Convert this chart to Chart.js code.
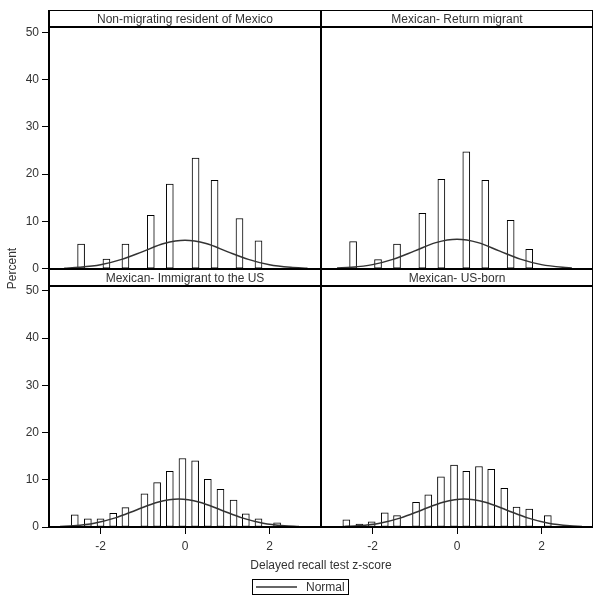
<!DOCTYPE html>
<html>
<head>
<meta charset="utf-8">
<script src="https://cdn.jsdelivr.net/npm/chart.js@4.4.1/dist/chart.umd.min.js"></script>
<style>
  html, body { margin: 0; padding: 0; background: #fff; }
</style>
</head>
<body>
<canvas id="chart" width="600" height="599"></canvas>
<script>
'use strict';

let ctx = document.getElementById('chart');

// panel headers, in order top-left, top-right, bottom-left, bottom-right
let panelTitles = ['Non-migrating resident of Mexico', 'Mexican- Return migrant',
  'Mexican- Immigrant to the US', 'Mexican- US-born'];

let xTicks = [-2, 0, 2];
let yTicks = [0, 10, 20, 30, 40, 50];

// histogram bars: bar centre (z-score) and percent
let tlBinX = [-2.46, -1.86, -1.41, -0.81, -0.36, 0.25, 0.70, 1.29, 1.74];
let tlPct  = [5.2, 2.0, 5.2, 11.3, 17.9, 23.4, 18.7, 10.6, 5.9];

let trBinX = [-2.46, -1.87, -1.42, -0.82, -0.37, 0.22, 0.67, 1.27, 1.71];
let trPct  = [5.7, 1.9, 5.2, 11.7, 18.9, 24.7, 18.7, 10.2, 4.1];

let blBinX = [-2.61, -2.30, -2.00, -1.70, -1.41, -0.96, -0.66, -0.36, -0.06, 0.24, 0.54, 0.84, 1.15, 1.44, 1.74, 2.18];
let blPct  = [2.6, 1.75, 1.75, 2.9, 4.1, 7.0, 9.4, 11.8, 14.5, 14.0, 10.1, 8.0, 5.7, 2.8, 1.75, 0.9];

let brBinX = [-2.62, -2.31, -2.02, -1.71, -1.42, -0.97, -0.68, -0.38, -0.07, 0.22, 0.52, 0.81, 1.12, 1.41, 1.71, 2.15];
let brPct  = [1.5, 0.6, 1.1, 3.0, 2.4, 5.2, 6.8, 10.6, 13.1, 11.8, 12.8, 12.2, 8.2, 4.2, 3.8, 2.4];

// fitted normal curves
let tlCurveX = [-2.86, -2.5, -2, -1.5, -1, -0.5, 0, 0.5, 1, 1.5, 2, 2.5, 2.9];
let tlCurveY = [0.1, 0.27, 0.8, 1.95, 3.6, 5.3, 6.0, 5.3, 3.6, 1.95, 0.8, 0.27, 0.09];

let trCurveX = [-2.84, -2.5, -2, -1.5, -1, -0.5, 0, 0.5, 1, 1.5, 2, 2.5, 2.72];
let trCurveY = [0.11, 0.27, 0.84, 2.0, 3.75, 5.5, 6.2, 5.5, 3.75, 2.0, 0.84, 0.27, 0.15];

let blCurveX = [-2.96, -2.65, -2.15, -1.65, -1.15, -0.65, -0.15, 0.35, 0.85, 1.35, 1.85, 2.35, 2.7];
let blCurveY = [0.1, 0.26, 0.8, 1.93, 3.6, 5.25, 5.95, 5.25, 3.6, 1.93, 0.8, 0.26, 0.09];

let brCurveX = [-2.65, -2.33, -1.83, -1.33, -0.83, -0.33, 0.17, 0.67, 1.17, 1.67, 2.17, 2.67, 2.96];
let brCurveY = [0.11, 0.26, 0.8, 1.93, 3.6, 5.25, 5.95, 5.25, 3.6, 1.93, 0.8, 0.26, 0.12];

const FONT = 'Liberation Sans, Arial, Helvetica, sans-serif';
const TEXT = '#333';
const STRIP = 51.1; // value where the header strip starts

function pts(xs, ys) {
  return xs.map(function(x, i) { return {x: x, y: ys[i]}; });
}

function bars(xs, ys, xId, yId) {
  return {
    type: 'bar',
    data: pts(xs, ys),
    xAxisID: xId,
    yAxisID: yId,
    backgroundColor: '#fff',
    borderColor: '#000',
    borderWidth: 1,
    borderSkipped: false,
    barThickness: 7,
    grouped: false,
    order: 2
  };
}

function curve(xs, ys, xId, yId) {
  return {
    type: 'line',
    label: 'Normal',
    data: pts(xs, ys),
    xAxisID: xId,
    yAxisID: yId,
    borderColor: '#333',
    borderWidth: 1.5,
    pointRadius: 0,
    cubicInterpolationMode: 'monotone',
    fill: false,
    order: 1
  };
}

function xScale() {
  return {
    type: 'linear',
    position: 'bottom',
    stack: 'xs',
    min: -3.22,
    max: 3.22,
    offset: false,
    grid: { display: true, offset: false, drawOnChartArea: false, drawTicks: true, tickLength: 7, color: '#000', lineWidth: 1 },
    border: { display: false },
    ticks: { color: TEXT, font: { family: FONT, size: 12 }, padding: 5, maxRotation: 0 },
    afterBuildTicks: function(s) { s.ticks = xTicks.map(function(v) { return {value: v}; }); },
    afterFit: function(s) { s.height = 72; }
  };
}

function yScale() {
  return {
    type: 'linear',
    position: 'left',
    stack: 'ys',
    min: 0,
    max: 54.7,
    grid: { display: true, drawOnChartArea: false, drawTicks: true, tickLength: 7, color: '#000', lineWidth: 1 },
    border: { display: false },
    ticks: { color: TEXT, font: { family: FONT, size: 12 }, padding: 3 },
    afterBuildTicks: function(s) { s.ticks = yTicks.map(function(v) { return {value: v}; }); },
    afterFit: function(s) { s.width = 49; }
  };
}

// frame, header strips, axis titles and legend
const panelFrame = {
  id: 'panelFrame',
  afterDatasetsDraw(chart) {
    const c = chart.ctx;
    const xL = chart.scales.xL, xR = chart.scales.xR;
    const yT = chart.scales.yT, yB = chart.scales.yB;
    const left = Math.round(xL.left), mid = Math.round(xL.right), right = Math.round(xR.right);
    const top = Math.round(yT.top), midY = Math.round(yT.bottom), bottom = Math.round(yB.bottom);
    const sT = Math.round(yT.getPixelForValue(STRIP));
    const sB = Math.round(yB.getPixelForValue(STRIP));

    c.save();
    c.strokeStyle = '#000';
    c.lineWidth = 1;
    c.beginPath();
    c.moveTo(left, top + 0.5); c.lineTo(right, top + 0.5);
    c.moveTo(right - 0.5, top); c.lineTo(right - 0.5, bottom);
    c.stroke();

    c.lineWidth = 2;
    c.beginPath();
    c.moveTo(left, top); c.lineTo(left, bottom);
    c.moveTo(mid, top); c.lineTo(mid, bottom);
    c.moveTo(left - 1, bottom); c.lineTo(right, bottom);
    c.moveTo(left, midY); c.lineTo(right, midY);
    c.moveTo(left, sT); c.lineTo(right, sT);
    c.moveTo(left, sB); c.lineTo(right, sB);
    c.stroke();

    c.fillStyle = TEXT;
    c.font = '12px ' + FONT;
    c.textAlign = 'center';
    c.textBaseline = 'middle';
    c.fillText(panelTitles[0], (left + mid) / 2, (top + sT) / 2 + 1);
    c.fillText(panelTitles[1], (mid + right) / 2, (top + sT) / 2 + 1);
    c.fillText(panelTitles[2], (left + mid) / 2, (midY + sB) / 2 + 1);
    c.fillText(panelTitles[3], (mid + right) / 2, (midY + sB) / 2 + 1);

    // axis titles
    c.fillText('Delayed recall test z-score', (left + right) / 2, 566);
    c.save();
    c.translate(13, (top + bottom) / 2);
    c.rotate(-Math.PI / 2);
    c.fillText('Percent', 0, 0);
    c.restore();

    // legend
    c.lineWidth = 1;
    c.strokeRect(252.5, 579.5, 96, 15);
    c.strokeStyle = '#333';
    c.lineWidth = 1.5;
    c.beginPath();
    c.moveTo(256, 587); c.lineTo(297, 587);
    c.stroke();
    c.textAlign = 'left';
    c.fillText('Normal', 306, 587.5);
    c.restore();
  }
};

new Chart(ctx, {
  type: 'bar',
  data: {
    datasets: [
      bars(tlBinX, tlPct, 'xL', 'yT'),
      bars(trBinX, trPct, 'xR', 'yT'),
      bars(blBinX, blPct, 'xL', 'yB'),
      bars(brBinX, brPct, 'xR', 'yB'),
      curve(tlCurveX, tlCurveY, 'xL', 'yT'),
      curve(trCurveX, trCurveY, 'xR', 'yT'),
      curve(blCurveX, blCurveY, 'xL', 'yB'),
      curve(brCurveX, brCurveY, 'xR', 'yB')
    ]
  },
  options: {
    responsive: false,
    animation: false,
    devicePixelRatio: 1,
    layout: { padding: { top: 5, right: 7, left: 0, bottom: 0 } },
    scales: {
      xL: xScale(),
      xR: xScale(),
      yB: yScale(),
      yT: yScale()
    },
    plugins: {
      legend: { display: false },
      tooltip: { enabled: false }
    }
  },
  plugins: [panelFrame]
});
</script>
</body>
</html>
